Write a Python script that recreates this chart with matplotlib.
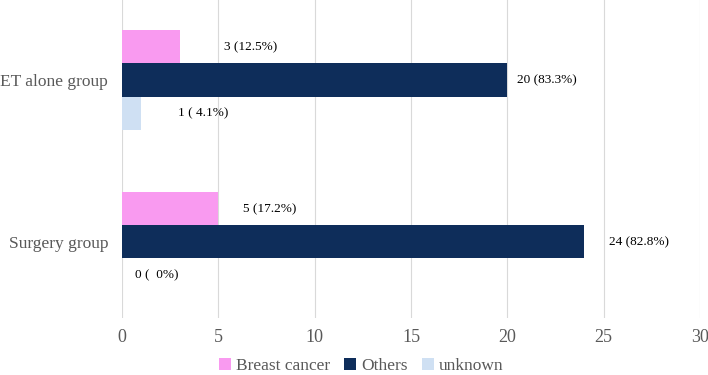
import numpy as np
import matplotlib
matplotlib.use("Agg")
import matplotlib.pyplot as plt

# data
groups = ["Surgery group", "ET alone group"]
series = ["Breast cancer", "Others", "unknown"]
breast_cancer = [5, 3]
others = [24, 20]
unknown = [0, 1]
labels = {
    "Breast cancer": ["5 (17.2%)", "3 (12.5%)"],
    "Others": ["24 (82.8%)", "20 (83.3%)"],
    "unknown": ["0 (  0%)", "1 ( 4.1%)"],
}

colors = {"Breast cancer": "#F99AF0", "Others": "#0E2D5A", "unknown": "#CFE0F3"}
# label x offsets (data units) past bar end, per group
offsets = {"Breast cancer": [1.3, 2.3], "Others": [1.3, 0.5], "unknown": [0.65, 1.9]}

plt.rcParams["font.family"] = "serif"
plt.rcParams["font.serif"] = ["Liberation Serif", "DejaVu Serif"]

fig = plt.figure(figsize=(7.08, 3.75), dpi=100)
ax = fig.add_axes([0.1723, 0.152, 0.8164, 0.848])

y = np.arange(len(groups))
h = 0.204
vals = {"Breast cancer": breast_cancer, "Others": others, "unknown": unknown}
for i, name in enumerate(series):
    pos = y + h * (1 - i)
    ax.barh(pos, vals[name], height=h, color=colors[name], label=name, zorder=2)
    for p, v, lab, off in zip(pos, vals[name], labels[name], offsets[name]):
        ax.text(v + off, p, lab, ha="left", va="center", fontsize=9.5, color="black")

ax.set_xlim(0, 30)
ax.set_xticks(np.arange(0, 31, 5))
ax.set_ylim(-0.47, 1.494)
ax.set_yticks(y)
ax.set_yticklabels(groups, fontsize=12.5, color="#595959")
ax.tick_params(axis="x", labelsize=13, labelcolor="#595959", length=0, pad=8)
ax.tick_params(axis="y", length=0, pad=10)
ax.grid(axis="x", color="#D9D9D9", linewidth=0.8, zorder=0)
for s in ax.spines.values():
    s.set_visible(False)

fig.legend(loc="lower center", bbox_to_anchor=(0.51, -0.04), ncol=3, frameon=False,
           prop={"family": "serif", "size": 12.5}, labelcolor="#595959",
           handlelength=0.7, handleheight=0.7, handletextpad=0.3, columnspacing=0.8)

fig.savefig("out.png", dpi=100)
